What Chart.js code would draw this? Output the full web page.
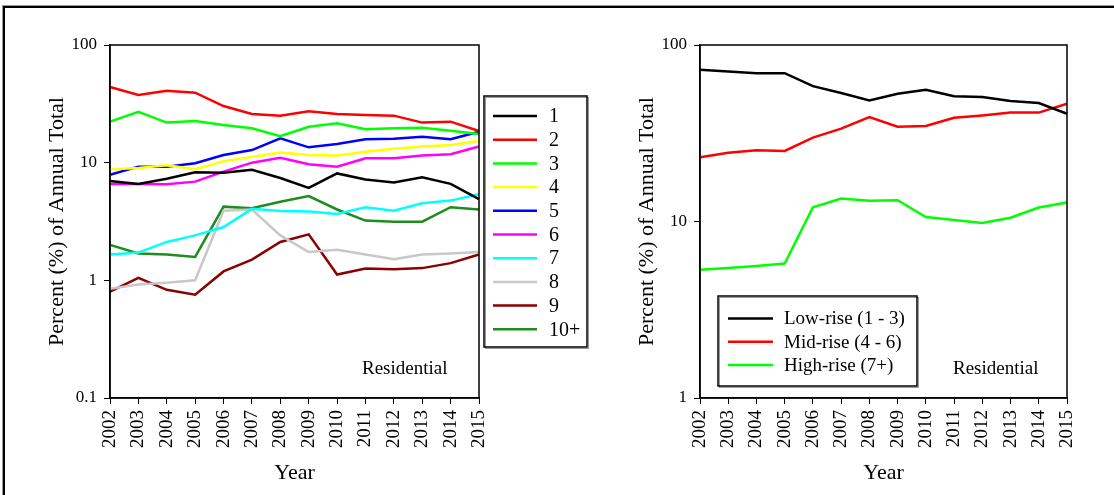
<!DOCTYPE html>
<html>
<head>
<meta charset="utf-8">
<script src="https://cdn.jsdelivr.net/npm/chart.js@4.4.1/dist/chart.umd.min.js"></script>
<style>
  html, body { margin: 0; padding: 0; background: #fff; }
  body { width: 1114px; height: 495px; position: relative; overflow: hidden; }
  #frame { position: absolute; left: 3px; top: 6px; width: 1200px; height: 600px;
           border-left: 2px solid #000; border-top: 2px solid #000; box-shadow: -1px -1px 0 #999; }
  canvas { position: absolute; top: 0; }
  #c1 { left: 0; }
  #c2 { left: 557px; }
</style>
</head>
<body>
<div id="frame"></div>
<canvas id="c1" width="600" height="495"></canvas>
<canvas id="c2" width="557" height="495"></canvas>
<script>
// ---- data ----
const years = ['2002','2003','2004','2005','2006','2007','2008','2009','2010','2011','2012','2013','2014','2015'];

const storeyLabels = ['1','2','3','4','5','6','7','8','9','10+'];
const s1  = [7.0, 6.6, 7.3, 8.3, 8.2, 8.7, 7.4, 6.1, 8.1, 7.2, 6.8, 7.5, 6.6, 4.9];
const s2  = [43.9, 37.6, 40.9, 39.3, 30.3, 25.9, 25.1, 27.3, 25.9, 25.4, 25.1, 21.9, 22.3, 18.6];
const s3  = [22.3, 27.1, 21.9, 22.6, 20.9, 19.6, 16.8, 20.2, 21.6, 19.2, 19.6, 19.8, 18.7, 17.5];
const s4  = [8.8, 9.0, 9.5, 8.8, 10.3, 11.2, 12.2, 11.6, 11.5, 12.4, 13.1, 13.7, 14.1, 15.3];
const s5  = [7.9, 9.25, 9.25, 9.9, 11.6, 12.8, 16.1, 13.5, 14.4, 15.8, 16.0, 16.6, 15.8, 18.3];
const s6  = [6.6, 6.6, 6.55, 6.9, 8.4, 10.0, 11.0, 9.7, 9.25, 10.9, 10.9, 11.5, 11.8, 13.7];
const s7  = [1.66, 1.72, 2.12, 2.41, 2.84, 4.05, 3.89, 3.84, 3.67, 4.18, 3.91, 4.51, 4.76, 5.38];
const s8  = [0.85, 0.92, 0.955, 1.0, 3.9, 4.0, 2.41, 1.74, 1.82, 1.66, 1.51, 1.66, 1.69, 1.74];
const s9  = [0.80, 1.05, 0.83, 0.755, 1.19, 1.5, 2.12, 2.46, 1.12, 1.26, 1.24, 1.27, 1.40, 1.66];
const s10 = [2.0, 1.69, 1.66, 1.58, 4.23, 4.1, 4.66, 5.2, 4.0, 3.22, 3.15, 3.15, 4.18, 4.0];

const groupLabels = ['Low-rise (1 - 3)', 'Mid-rise (4 - 6)', 'High-rise (7+)'];
const lowRise  = [72.3, 70.8, 69.2, 69.2, 58.5, 53.5, 48.5, 53.0, 55.8, 51.2, 50.7, 48.1, 46.9, 40.8];
const midRise  = [23.1, 24.5, 25.3, 25.1, 29.9, 33.6, 39.1, 34.4, 34.8, 38.7, 39.9, 41.4, 41.4, 46.5];
const highRise = [5.33, 5.45, 5.6, 5.78, 12.05, 13.5, 13.1, 13.2, 10.6, 10.2, 9.8, 10.5, 12.0, 12.8];

const yTicksLeft  = [0.1, 1, 10, 100];
const yTicksRight = [1, 10, 100];

const storeyColors = ['#000000','#ff0000','#00ff00','#ffff00','#0000ff','#ff00ff','#00ffff','#c8c8c8','#8b0000','#1e8c1e'];
const groupColors  = ['#000000','#ff0000','#00ff00'];

const SERIF = '"Liberation Serif", "Times New Roman", serif';

// ---- plugins ----
const frameBox = {
  id: 'frameBox',
  afterDraw(chart) {
    const {ctx, chartArea: a} = chart;
    ctx.save();
    ctx.strokeStyle = '#000';
    ctx.lineWidth = 1.5;
    ctx.strokeRect(a.left, a.top, a.right - a.left, a.bottom - a.top);
    ctx.restore();
  }
};

const boxLegend = {
  id: 'boxLegend',
  afterDraw(chart, args, o) {
    const {ctx} = chart;
    ctx.save();
    ctx.strokeStyle = '#999';
    ctx.lineWidth = 1;
    ctx.strokeRect(o.x + 1.5, o.y + 1.5, o.w, o.h);
    ctx.strokeStyle = '#000';
    ctx.lineWidth = 1.5;
    ctx.strokeRect(o.x, o.y, o.w, o.h);
    ctx.font = o.fontSize + 'px ' + SERIF;
    ctx.textBaseline = 'middle';
    ctx.textAlign = 'left';
    chart.data.datasets.forEach((ds, i) => {
      const y = o.firstY + i * o.step;
      ctx.strokeStyle = ds.borderColor;
      ctx.lineWidth = 2.5;
      ctx.beginPath();
      ctx.moveTo(o.lineX0, y);
      ctx.lineTo(o.lineX1, y);
      ctx.stroke();
      ctx.fillStyle = '#000';
      ctx.fillText(ds.label, o.textX, y + 1);
    });
    ctx.restore();
  }
};

const cornerText = {
  id: 'cornerText',
  afterDraw(chart, args, o) {
    const {ctx} = chart;
    ctx.save();
    ctx.font = o.fontSize + 'px ' + SERIF;
    ctx.fillStyle = '#000';
    ctx.textBaseline = 'middle';
    ctx.textAlign = 'left';
    ctx.fillText(o.text, o.x, o.y);
    ctx.restore();
  }
};

function makeOptions(yMin, yMax, yTicks, pad, legendOpts, textOpts) {
  return {
    responsive: false,
    animation: false,
    layout: { padding: pad },
    elements: { line: { tension: 0, borderWidth: 2.5 }, point: { radius: 0 } },
    plugins: {
      legend: { display: false },
      tooltip: { enabled: false },
      boxLegend: legendOpts,
      cornerText: textOpts
    },
    scales: {
      x: {
        type: 'category',
        offset: false,
        afterFit: s => { s.height = 92; },
        grid: { display: true, drawOnChartArea: false, drawTicks: true, tickLength: 6, color: '#000', offset: false },
        border: { display: true, color: '#000', width: 1.5 },
        ticks: { color: '#000', autoSkip: false, minRotation: 90, maxRotation: 90, padding: 6,
                 font: { family: SERIF, size: 19 } },
        title: { display: true, text: 'Year', color: '#000', font: { family: SERIF, size: 22 }, padding: { top: 0, bottom: 4 } }
      },
      y: {
        type: 'logarithmic',
        min: yMin, max: yMax,
        afterFit: s => { s.width = 69; },
        afterBuildTicks: s => { s.ticks = yTicks.map(v => ({ value: v })); },
        grid: { display: true, drawOnChartArea: false, drawTicks: true, tickLength: 6, color: '#000' },
        border: { display: true, color: '#000', width: 1.5 },
        ticks: { color: '#000', padding: 7, font: { family: SERIF, size: 17 },
                 callback: v => String(v) },
        title: { display: true, text: 'Percent (%) of Annual Total', color: '#000',
                 font: { family: SERIF, size: 22 }, padding: { top: 3, bottom: 3 } }
      }
    }
  };
}

// ---- left chart ----
const storeySeries = [s1, s2, s3, s4, s5, s6, s7, s8, s9, s10];
new Chart(document.getElementById('c1'), {
  type: 'line',
  data: {
    labels: years,
    datasets: storeySeries.map((d, i) => ({
      label: storeyLabels[i], data: d, borderColor: storeyColors[i], backgroundColor: storeyColors[i], fill: false
    }))
  },
  options: makeOptions(0.1, 100, yTicksLeft,
    { left: 41, right: 121, top: 45, bottom: 5 },
    { x: 484, y: 96, w: 103, h: 251, lineX0: 493, lineX1: 537, textX: 549, firstY: 116, step: 23.7, fontSize: 20 },
    { text: 'Residential', x: 362, y: 369, fontSize: 19 }),
  plugins: [frameBox, boxLegend, cornerText]
});

// ---- right chart ----
const groupSeries = [lowRise, midRise, highRise];
new Chart(document.getElementById('c2'), {
  type: 'line',
  data: {
    labels: years,
    datasets: groupSeries.map((d, i) => ({
      label: groupLabels[i], data: d, borderColor: groupColors[i], backgroundColor: groupColors[i], fill: false
    }))
  },
  options: makeOptions(1, 100, yTicksRight,
    { left: 74, right: 47, top: 45, bottom: 5 },
    { x: 718 - 557, y: 296, w: 199, h: 90, lineX0: 728 - 557, lineX1: 773 - 557, textX: 784 - 557, firstY: 318.5, step: 23.3, fontSize: 19 },
    { text: 'Residential', x: 953 - 557, y: 369, fontSize: 19 }),
  plugins: [frameBox, boxLegend, cornerText]
});
</script>
</body>
</html>
